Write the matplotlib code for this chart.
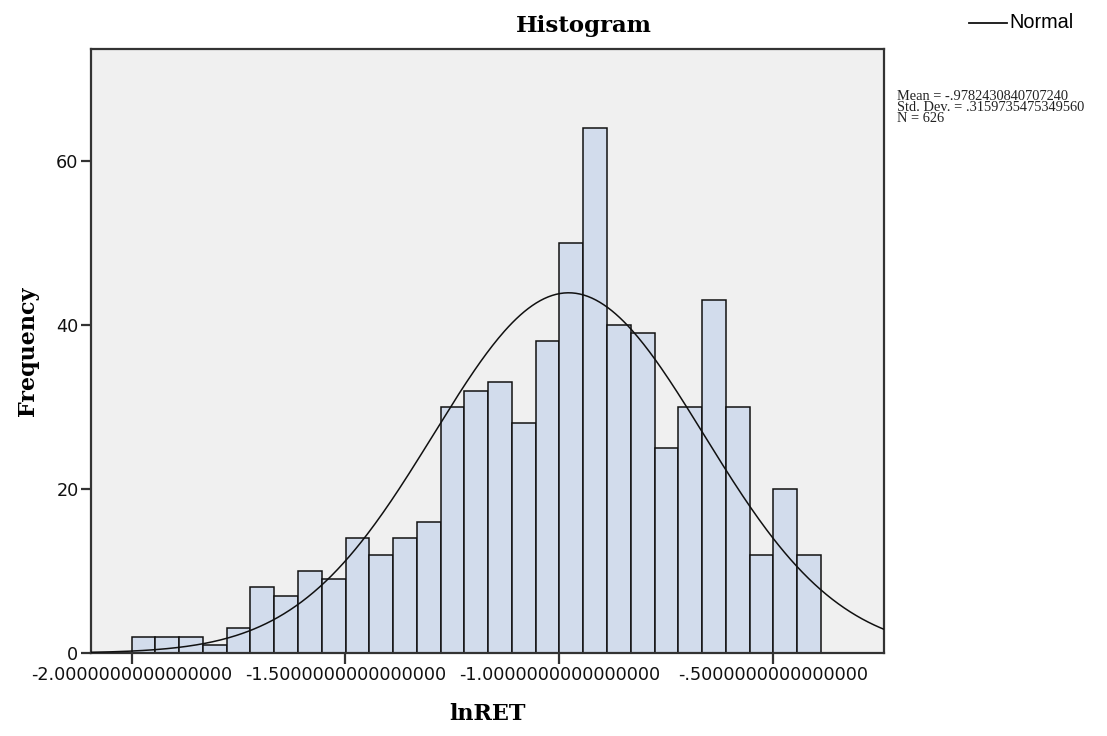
import numpy as np
import matplotlib
matplotlib.use("Agg")
import matplotlib.pyplot as plt
from matplotlib.lines import Line2D

# ---- data ----
counts = [2, 2, 2, 1, 3, 8, 7, 10, 9, 14, 12, 14, 16, 30, 32, 33, 28, 38,
          50, 64, 40, 39, 25, 30, 43, 30, 12, 20, 12]
bin_start = -2.0
bin_width = 0.05558
mean = -0.9782430840707240
std_dev = 0.3159735475349560
n_obs = 626
x_ticks = [-2.0, -1.5, -1.0, -0.5]
x_tick_labels = ["-2.0000000000000000", "-1.5000000000000000",
                 "-1.0000000000000000", "-.5000000000000000"]
y_ticks = [0, 20, 40, 60]
stats_lines = ["Mean = -.9782430840707240",
               "Std. Dev. = .3159735475349560",
               "N = 626"]

W, H = 1107, 736
fig = plt.figure(figsize=(W / 100, H / 100), dpi=100)
ax = fig.add_axes([91 / W, 83 / H, 793 / W, 604 / H])
ax.set_facecolor("#F0F0F0")

edges = bin_start + bin_width * np.arange(len(counts) + 1)
ax.bar(edges[:-1], counts, width=bin_width, align="edge",
       color="#D2DCEC", edgecolor="#111111", linewidth=1.1, zorder=2)

xmin, xmax = -2.0947, -0.241
xs = np.linspace(xmin, xmax, 400)
pdf = np.exp(-0.5 * ((xs - mean) / std_dev) ** 2) / (std_dev * np.sqrt(2 * np.pi))
ax.plot(xs, n_obs * bin_width * pdf, color="#111111", linewidth=1.1, zorder=3)

ax.set_xlim(xmin, xmax)
ax.set_ylim(0, 73.66)

for s in ax.spines.values():
    s.set_color("#333333")
    s.set_linewidth(1.6)

ax.set_xticks(x_ticks)
ax.set_xticklabels(x_tick_labels, fontsize=12.7, family="DejaVu Sans", color="#111111")
ax.set_yticks(y_ticks)
ax.set_yticklabels([str(v) for v in y_ticks], fontsize=12.7, family="DejaVu Sans", color="#111111")
ax.tick_params(axis="x", length=8, width=1.6, color="#333333", pad=1)
ax.tick_params(axis="y", length=7, width=1.6, color="#333333", pad=2)

ax.set_xlabel("lnRET", fontsize=16, fontweight="bold", family="DejaVu Serif", labelpad=14)
ax.set_ylabel("Frequency", fontsize=16, fontweight="bold", family="DejaVu Serif", labelpad=12)

fig.text(584 / W, 1 - 26 / H, "Histogram", fontsize=16.5, fontweight="bold",
         family="DejaVu Serif", ha="center", va="center")

# legend
fig.add_artist(Line2D([969 / W, 1007 / W], [1 - 23 / H, 1 - 23 / H],
                      color="#111111", linewidth=1.3))
fig.text(1009 / W, 1 - 23 / H, "Normal", fontsize=14.3, family="Liberation Sans",
         ha="left", va="center")

for i, line in enumerate(stats_lines):
    fig.text(897 / W, 1 - (96 + 11.2 * i) / H, line, fontsize=10.4,
             family="Liberation Serif", ha="left", va="center", color="#222222")

fig.savefig("out.png", dpi=100, facecolor="white")
